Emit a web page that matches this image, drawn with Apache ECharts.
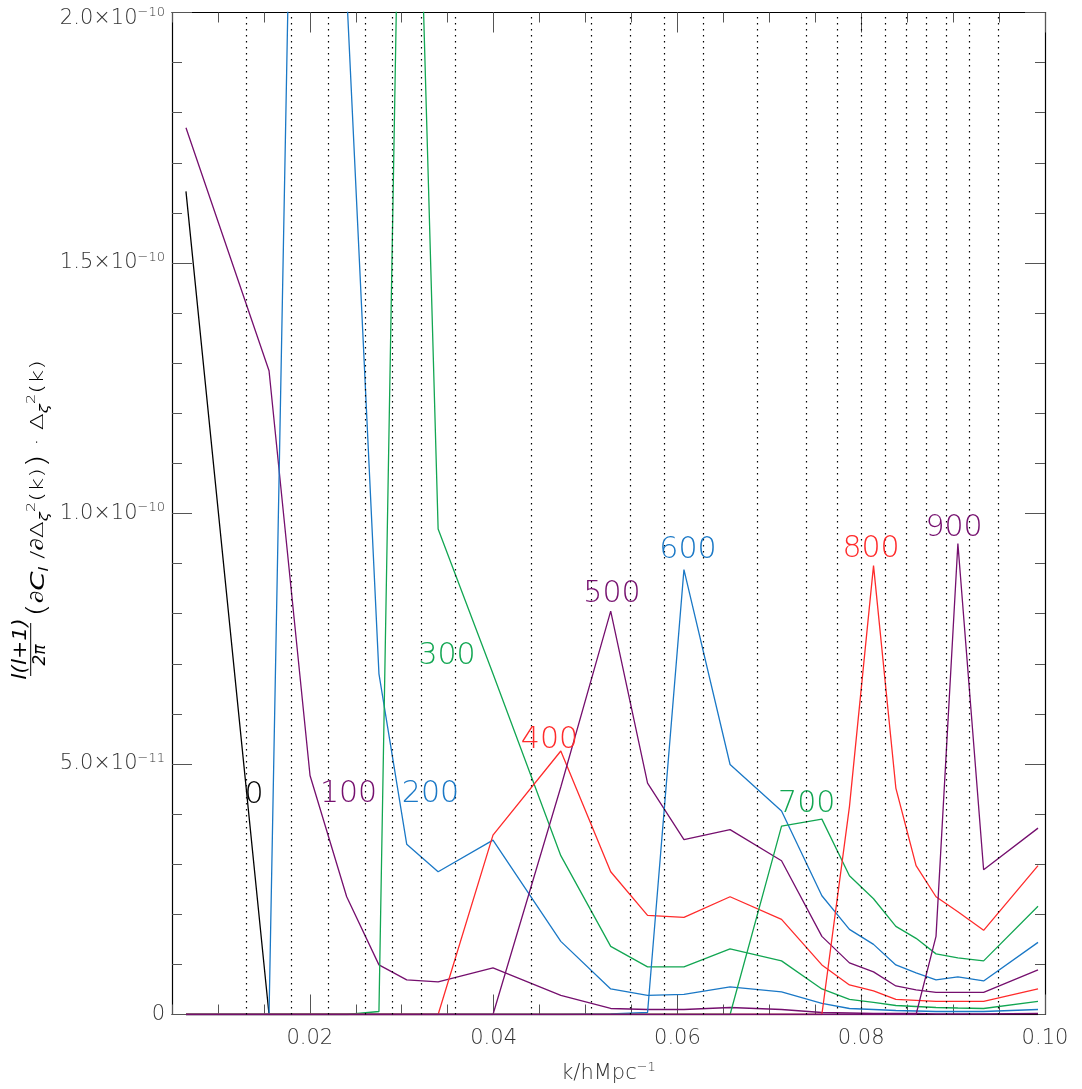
<!DOCTYPE html>
<html>
<head>
<meta charset="utf-8">
<script src="https://cdn.jsdelivr.net/npm/echarts@6/dist/echarts.min.js"></script>
<style>
  html, body { margin: 0; padding: 0; background: #ffffff; }
  #chart { width: 1082px; height: 1089px; }
</style>
</head>
<body>
<div id="chart"></div>
<script>
// Wavenumber bin centres k [h/Mpc]
const kValues = [0.00652, 0.01556, 0.02002, 0.02401, 0.02752, 0.03054, 0.03396, 0.03993,
                 0.04731, 0.05274, 0.05675, 0.06071, 0.06573, 0.07133, 0.07572, 0.07872,
                 0.08134, 0.08377, 0.08597, 0.08814, 0.09052, 0.09332, 0.09924];

// Bin edges (dotted verticals)
const binEdges = [0.01305, 0.01801, 0.02203, 0.02600, 0.02902, 0.03207, 0.03585, 0.04404,
                  0.05058, 0.05490, 0.05860, 0.06282, 0.06864, 0.07403, 0.07740, 0.08004,
                  0.08265, 0.08488, 0.08706, 0.08923, 0.09179, 0.09486];

// l(l+1)/2pi dC_l/dlnDelta^2 per k bin, in units of 1e-12
const ell0   = [164.3, 0, 0, 0, 0, 0, 0, 0, 0, 0, 0, 0, 0, 0, 0, 0, 0, 0, 0, 0, 0, 0, 0];
const ell100 = [177.0, 128.5, 47.7, 23.5, 9.9, 6.9, 6.5, 9.3, 3.8, 1.2, 1.0, 1.0, 1.4, 1.0, 0.4, 0.3, 0.2, 0.2, 0.2, 0.1, 0.1, 0.1, 0.2];
const ell200 = [0, 0, 438, 204, 68.0, 34.0, 28.5, 34.8, 14.6, 5.1, 3.8, 4.0, 5.5, 4.5, 2.2, 1.2, 1.0, 0.8, 0.7, 0.6, 0.6, 0.6, 1.0];
const ell300 = [0, 0, 0, 0, 0.6, 320, 96.9, 68.0, 31.7, 13.6, 9.5, 9.5, 13.1, 10.7, 5.1, 3.0, 2.4, 1.8, 1.6, 1.4, 1.3, 1.2, 2.6];
const ell400 = [0, 0, 0, 0, 0, 0, 0, 35.8, 52.6, 28.5, 19.8, 19.4, 23.5, 19.0, 9.9, 5.9, 4.7, 3.0, 2.8, 2.6, 2.6, 2.6, 5.1];
const ell500 = [0, 0, 0, 0, 0, 0, 0, 0, 45.4, 80.5, 46.2, 34.9, 36.9, 30.7, 15.6, 10.3, 8.5, 5.7, 4.9, 4.4, 4.4, 4.4, 8.9];
const ell600 = [0, 0, 0, 0, 0, 0, 0, 0, 0, 0.1, 0.4, 88.8, 49.9, 40.6, 23.7, 17.0, 14.0, 9.9, 8.3, 6.9, 7.5, 6.7, 14.4];
const ell700 = [0, 0, 0, 0, 0, 0, 0, 0, 0, 0, 0, 0, 0, 37.6, 39.0, 27.7, 23.1, 17.6, 15.2, 12.1, 11.3, 10.7, 21.6];
const ell800 = [0, 0, 0, 0, 0, 0, 0, 0, 0, 0, 0, 0, 0, 0, 0, 41.5, 89.6, 45.2, 29.7, 23.5, 20.5, 16.8, 29.7];
const ell900 = [0, 0, 0, 0, 0, 0, 0, 0, 0, 0, 0, 0, 0, 0, 0, 0, 0, 0, 0, 15.6, 94.0, 28.9, 37.2];

const seriesNames  = ['0', '100', '200', '300', '400', '500', '600', '700', '800', '900'];
const seriesValues = [ell0, ell100, ell200, ell300, ell400, ell500, ell600, ell700, ell800, ell900];

// Where each multipole label sits (k, value in 1e-12)
const labelK = [0.01392, 0.02421, 0.03313, 0.03493, 0.04608, 0.05288, 0.06115, 0.07407, 0.08107, 0.09010];
const labelV = [43.8, 43.9, 43.9, 71.6, 54.7, 83.9, 92.6, 41.9, 92.8, 97.0];

// Axis ticks
const xMajorTicks = [0.02, 0.04, 0.06, 0.08, 0.10];
const xTickLabels = ['0.02', '0.04', '0.06', '0.08', '0.10'];
const yMajorTicks = [0, 50, 100, 150, 200];
const yTickMantissa = ['0', '5.0', '1.0', '1.5', '2.0'];
const yTickExponent = ['', '\u221211', '\u221210', '\u221210', '\u221210'];

const PURPLE = '#750f6e', BLUE = '#1a78c6', GREEN = '#12a652', RED = '#ff2b2b';
const seriesColors = ['#000000', PURPLE, BLUE, GREEN, RED, PURPLE, BLUE, GREEN, RED, PURPLE];

const FONT = 'DejaVu Sans';
const TEXT = '#333333';
const TICK = '#555555';

const X_MIN = 0.005, X_MAX = 0.1, Y_MIN = 0, Y_MAX = 200;

function xAxisDef(position, major, withLabels) {
  return {
    type: 'value', gridIndex: 0, position: position,
    min: X_MIN, max: X_MAX, interval: 0.005,
    axisLine: { show: major, onZero: false, lineStyle: { color: '#000', width: 1.2 } },
    axisTick: Object.assign({ show: true, inside: true, length: major ? 20 : 10,
                              lineStyle: { color: TICK, width: 1 } },
                            major ? { customValues: xMajorTicks } : {}),
    axisLabel: withLabels ? {
      show: true, customValues: xMajorTicks, margin: 14,
      fontFamily: FONT, fontSize: 21, fontWeight: 200, color: TEXT,
      formatter: v => xTickLabels[xMajorTicks.findIndex(t => Math.abs(t - v) < 1e-9)]
    } : { show: false },
    splitLine: { show: false },
    name: withLabels ? '{t|k/hMpc}{s|\u22121}' : '',
    nameLocation: 'middle', nameGap: 47,
    nameTextStyle: {
      rich: {
        t: { fontFamily: FONT, fontSize: 21, fontWeight: 200, color: TEXT, lineHeight: 24 },
        s: { fontFamily: FONT, fontSize: 13, fontWeight: 200, color: TEXT, lineHeight: 12, verticalAlign: 'top' }
      }
    }
  };
}

function yAxisDef(position, major, withLabels) {
  return {
    type: 'value', gridIndex: 0, position: position,
    min: Y_MIN, max: Y_MAX, interval: 10,
    axisLine: { show: major, onZero: false, lineStyle: { color: '#000', width: 1.2 } },
    axisTick: Object.assign({ show: true, inside: true, length: major ? 20 : 10,
                              lineStyle: { color: TICK, width: 1 } },
                            major ? { customValues: yMajorTicks } : {}),
    axisLabel: withLabels ? {
      show: true, customValues: yMajorTicks, margin: 7,
      formatter: v => {
        const i = yMajorTicks.indexOf(v);
        const body = yTickExponent[i]
          ? '{m|' + yTickMantissa[i] + '\u00d710}{e|' + yTickExponent[i] + '}'
          : '{m|' + yTickMantissa[i] + '}';
        return v === Y_MAX ? '{gap| }\n' + body : body;
      },
      rich: {
        m: { fontFamily: FONT, fontSize: 21, fontWeight: 200, color: TEXT, lineHeight: 24 },
        e: { fontFamily: FONT, fontSize: 13, fontWeight: 200, color: TEXT, lineHeight: 12, verticalAlign: 'top' },
        gap: { fontSize: 1, lineHeight: 12 }
      }
    } : { show: false },
    splitLine: { show: false }
  };
}

const lineSeries = seriesNames.map((name, i) => ({
  name: name,
  type: 'line',
  xAxisIndex: 0, yAxisIndex: 0,
  data: kValues.map((k, j) => [k, seriesValues[i][j]]),
  symbol: 'none',
  clip: true,
  lineStyle: { color: seriesColors[i], width: 1.3 },
  itemStyle: { color: seriesColors[i] },
  z: 3,
  markPoint: {
    symbol: 'circle', symbolSize: 1, silent: true,
    itemStyle: { color: 'rgba(0,0,0,0)' },
    label: {
      show: true, position: 'inside', formatter: name,
      fontFamily: FONT, fontSize: 30, fontWeight: 200, color: seriesColors[i]
    },
    data: [{ coord: [labelK[i], labelV[i]] }]
  }
}));

// dotted bin-edge markers
lineSeries[0].markLine = {
  silent: true, symbol: ['none', 'none'], precision: 6,
  label: { show: false },
  lineStyle: { color: '#000', width: 1.2, type: [1.4, 4.6] },
  emphasis: { disabled: true },
  data: binEdges.map(v => ({ xAxis: v }))
};

// rotated y-axis title: l(l+1)/2pi (dC_l / dDelta_zeta^2(k)) . Delta_zeta^2(k)
const yTitle = {
  type: 'group', x: 30.7, y: 677, rotation: Math.PI / 2, silent: true,
  children: [
    { type: 'line', shape: { x1: 1, y1: 0, x2: 54, y2: 0 }, style: { stroke: '#000', lineWidth: 1 } },
    { type: 'text', x: 28, y: 0, scaleX: 1.15,
      style: { text: 'l(l+1)', font: 'italic 200 19px "DejaVu Sans"', fill: '#000', align: 'center', verticalAlign: 'bottom' } },
    { type: 'text', x: 22, y: 1,
      style: { text: '2\u03c0', font: 'italic 200 17px "DejaVu Sans"', fill: '#000', align: 'center', verticalAlign: 'top' } },
    { type: 'text', x: 60, y: 8, scaleX: 1.38,
      style: {
        text: '{p|(}{n|\u2202}{c|C}{b|l}{n| /\u2202\u0394}{b|\u03b6}{a|2}{n|(k)}{p|)}{n| \u00b7 \u0394}{b|\u03b6}{a|2}{n|(k)}',
        align: 'left', verticalAlign: 'middle', fill: '#000',
        rich: {
          p: { fontFamily: FONT, fontWeight: 200, fontSize: 26, lineHeight: 30, fill: '#000' },
          n: { fontFamily: FONT, fontWeight: 200, fontSize: 18, lineHeight: 22, fill: '#000' },
          c: { fontFamily: FONT, fontWeight: 200, fontStyle: 'italic', fontSize: 20, lineHeight: 22, fill: '#000' },
          a: { fontFamily: FONT, fontWeight: 200, fontSize: 12, lineHeight: 12, verticalAlign: 'top', fill: '#000', padding: [2, 0, 0, 0] },
          b: { fontFamily: FONT, fontWeight: 200, fontStyle: 'italic', fontSize: 12, lineHeight: 12, verticalAlign: 'bottom', fill: '#000', padding: [0, 0, 3, 0] }
        }
      } }
  ]
};

const chart = echarts.init(document.getElementById('chart'), null, { renderer: 'canvas' });
chart.setOption({
  animation: false,
  backgroundColor: '#ffffff',
  grid: { left: 172, right: 37, top: 6, bottom: 72, containLabel: false },
  xAxis: [
    xAxisDef('bottom', true, true),
    xAxisDef('bottom', false, false),
    xAxisDef('top', true, false),
    xAxisDef('top', false, false)
  ],
  yAxis: [
    yAxisDef('left', true, true),
    yAxisDef('left', false, false),
    yAxisDef('right', true, false),
    yAxisDef('right', false, false)
  ],
  series: lineSeries,
  graphic: [yTitle]
});
</script>
</body>
</html>
